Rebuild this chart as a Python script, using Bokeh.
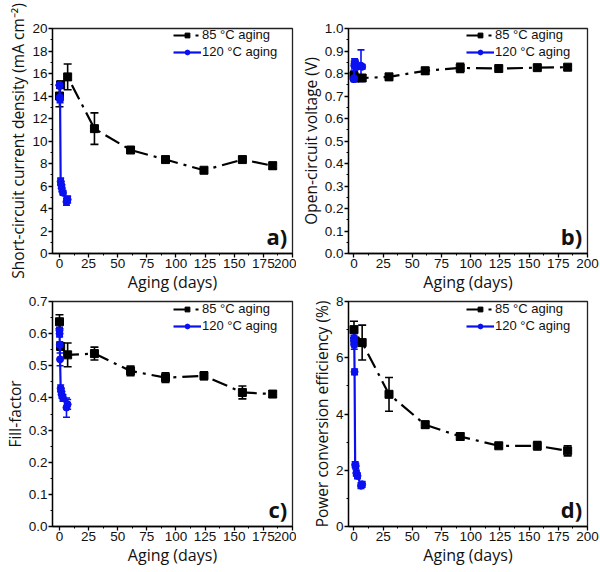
from bokeh.plotting import figure
from bokeh.layouts import gridplot
from bokeh.models import (ColumnDataSource, Whisker, TeeHead, Legend, LegendItem,
                          Label, FixedTicker, PrintfTickFormatter, Range1d)
from bokeh.embed import file_html
from bokeh.resources import INLINE

# ---- data ----
days_85 = [0, 1, 7, 30, 61, 91, 124, 157, 183]
days_120 = [0, 0.1, 0.25, 0.5, 1, 1.5, 2, 3, 6, 7]

jsc_85 = [14.0, 15.0, 15.7, 11.1, 9.2, 8.35, 7.4, 8.35, 7.8]
jsc_85_err = [0.95, 0.3, 1.15, 1.4, 0.2, 0.25, 0.2, 0.2, 0.3]
jsc_120 = [15.0, 14.9, 13.9, 13.7, 6.4, 6.1, 5.8, 5.4, 4.6, 4.8]
jsc_120_err = [0.2, 0.2, 0.3, 0.3, 0.3, 0.3, 0.3, 0.2, 0.3, 0.3]

voc_85 = [0.79, 0.78, 0.78, 0.785, 0.812, 0.825, 0.822, 0.826, 0.828]
voc_85_err = [0.02, 0.01, 0.01, 0.015, 0.015, 0.02, 0.01, 0.01, 0.01]
voc_120 = [0.775, 0.78, 0.835, 0.845, 0.85, 0.84, 0.835, 0.83, 0.835, 0.83]
voc_120_err = [0.01, 0.01, 0.02, 0.02, 0.01, 0.01, 0.01, 0.01, 0.07, 0.01]

ff_85 = [0.637, 0.56, 0.534, 0.538, 0.484, 0.463, 0.469, 0.417, 0.412]
ff_85_err = [0.022, 0.01, 0.037, 0.02, 0.015, 0.015, 0.012, 0.02, 0.01]
ff_120 = [0.61, 0.60, 0.565, 0.52, 0.43, 0.42, 0.41, 0.40, 0.37, 0.38]
ff_120_err = [0.01, 0.01, 0.01, 0.02, 0.01, 0.01, 0.01, 0.01, 0.03, 0.015]

pce_85 = [7.0, 6.6, 6.54, 4.7, 3.62, 3.2, 2.87, 2.87, 2.69]
pce_85_err = [0.3, 0.1, 0.62, 0.6, 0.12, 0.12, 0.08, 0.15, 0.18]
pce_120 = [6.7, 6.6, 6.45, 5.5, 2.2, 2.15, 1.9, 1.8, 1.45, 1.5]
pce_120_err = [0.1, 0.1, 0.15, 0.1, 0.1, 0.1, 0.1, 0.1, 0.1, 0.1]

x_ticks = [0, 25, 50, 75, 100, 125, 150, 175, 200]
series_labels = ["85 \u00b0C aging", "120 \u00b0C aging"]
x_label = "Aging (days)"

BLUE = "#0a10f0"
TICK_FONT = "Arial"
LABEL_FONT = "Open Sans"


def make_panel(y85, e85, y120, e120, ylabel, ymax, ystep, fmt, tag, xmin,
               width, height, bl, br, bt, bb, leg_x):
    p = figure(width=width, height=height, output_backend="svg",
               toolbar_location=None, x_range=Range1d(xmin, 200),
               y_range=Range1d(0, ymax),
               min_border_left=bl, min_border_right=br,
               min_border_top=bt, min_border_bottom=bb)
    p.xgrid.visible = False
    p.ygrid.visible = False
    p.outline_line_color = "#222222"
    p.outline_line_width = 1.3

    p.xaxis.ticker = FixedTicker(ticks=x_ticks,
                                 minor_ticks=[t + 12.5 for t in x_ticks[:-1]])
    yt = [round(i * ystep, 4) for i in range(int(round(ymax / ystep)) + 1)]
    p.yaxis.ticker = FixedTicker(ticks=yt,
                                 minor_ticks=[round(t + ystep / 2, 4) for t in yt[:-1]])
    if fmt:
        p.yaxis.formatter = PrintfTickFormatter(format=fmt)
    for ax in (p.xaxis, p.yaxis):
        ax.axis_line_width = 1.3
        ax.major_tick_line_width = 1.3
        ax.minor_tick_line_width = 1.0
        ax.major_tick_out = 4
        ax.major_tick_in = 0
        ax.minor_tick_out = 2
        ax.minor_tick_in = 0
        ax.major_label_text_font = TICK_FONT
        ax.major_label_text_font_size = "13.5px"
        ax.major_label_text_color = "#111111"
        ax.axis_label_text_font = LABEL_FONT
        ax.axis_label_text_font_style = "normal"
        ax.axis_label_text_color = "#111111"
        ax.major_label_standoff = 1
        ax.axis_label_standoff = 0
    p.xaxis.axis_label = x_label
    p.xaxis.axis_label_text_font_size = "16px"
    p.yaxis.axis_label = ylabel
    p.yaxis.axis_label_text_font_size = "15.5px"

    s85 = ColumnDataSource(dict(x=days_85, y=y85,
                                lo=[a - b for a, b in zip(y85, e85)],
                                hi=[a + b for a, b in zip(y85, e85)]))
    s120 = ColumnDataSource(dict(x=days_120, y=y120,
                                 lo=[a - b for a, b in zip(y120, e120)],
                                 hi=[a + b for a, b in zip(y120, e120)]))

    l85 = p.line("x", "y", source=s85, line_color="black", line_width=2.2,
                 line_dash="16 6 3 6")
    w85 = Whisker(base="x", lower="lo", upper="hi", source=s85,
                  line_color="black", line_width=1.6,
                  upper_head=TeeHead(size=8, line_color="black", line_width=1.6),
                  lower_head=TeeHead(size=8, line_color="black", line_width=1.6))
    p.add_layout(w85)
    m85 = p.scatter("x", "y", source=s85, marker="square", size=8,
                    fill_color="black", line_color="black")

    l120 = p.line("x", "y", source=s120, line_color=BLUE, line_width=2.2)
    w120 = Whisker(base="x", lower="lo", upper="hi", source=s120,
                   line_color=BLUE, line_width=1.6,
                   upper_head=TeeHead(size=7, line_color=BLUE, line_width=1.6),
                   lower_head=TeeHead(size=7, line_color=BLUE, line_width=1.6))
    p.add_layout(w120)
    m120 = p.scatter("x", "y", source=s120, marker="circle", size=7,
                     fill_color=BLUE, line_color=BLUE)

    fh = height - bt - bb
    legend = Legend(items=[LegendItem(label=series_labels[0], renderers=[l85, m85]),
                           LegendItem(label=series_labels[1], renderers=[l120, m120])],
                    location=(leg_x, fh - 34))
    legend.border_line_alpha = 0
    legend.background_fill_alpha = 0
    legend.label_text_font = TICK_FONT
    legend.label_text_font_size = "13px"
    legend.label_text_color = "#111111"
    legend.glyph_width = 28
    legend.glyph_height = 12
    legend.label_height = 12
    legend.label_standoff = 1
    legend.spacing = 2
    legend.padding = 2
    legend.margin = 0
    legend.label_text_baseline = "middle"
    p.add_layout(legend)

    lab = Label(x=195.5, y=ymax * 0.012, text=tag, text_font=LABEL_FONT,
                text_font_size="22px", text_font_style="bold",
                text_align="right", text_baseline="bottom", text_color="#111111")
    p.add_layout(lab)
    return p


pa = make_panel(jsc_85, jsc_85_err, jsc_120, jsc_120_err,
                "Short-circuit current density (mA cm\u207b\u00b2)", 20, 2, None, "a)",
                -6, 296, 295, 42, 4, 28, 41, 119)
pb = make_panel(voc_85, voc_85_err, voc_120, voc_120_err,
                "Open-circuit voltage (V)", 1.0, 0.1, "%.1f", "b)",
                -4.7, 304, 295, 44, 13, 28, 41, 116)
pc = make_panel(ff_85, ff_85_err, ff_120, ff_120_err,
                "Fill-factor", 0.7, 0.1, "%.1f", "c)",
                -6, 296, 277, 42, 4, 6, 46, 119)
pd = make_panel(pce_85, pce_85_err, pce_120, pce_120_err,
                "Power conversion efficiency (%)", 8, 2, None, "d)",
                -4.7, 304, 277, 44, 13, 6, 46, 116)

grid = gridplot([[pa, pb], [pc, pd]], toolbar_location=None)

open("out.html", "w").write(file_html(grid, INLINE))
